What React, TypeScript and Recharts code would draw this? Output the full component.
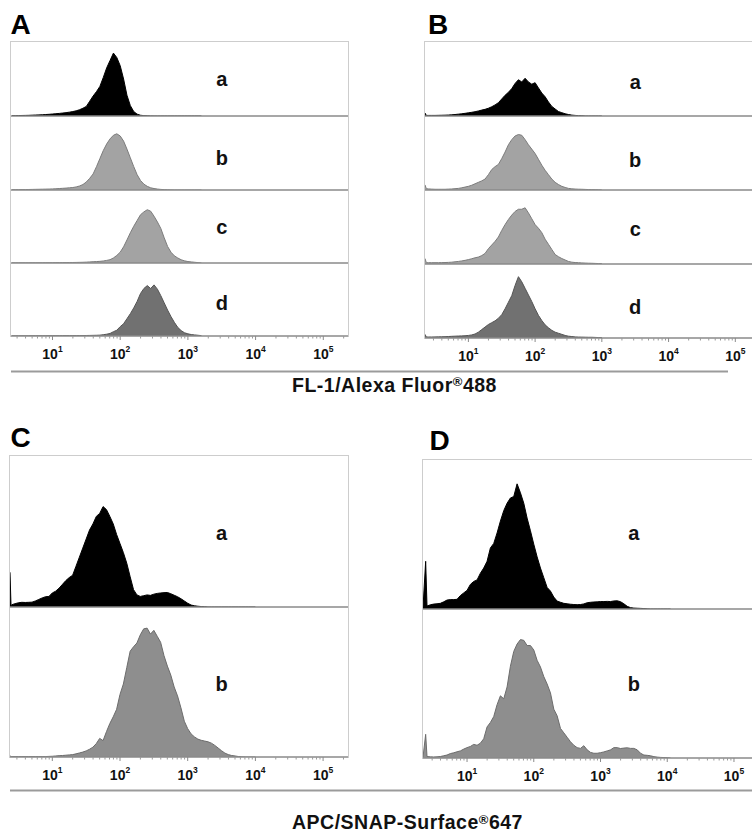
import { Area, AreaChart, ReferenceDot, ReferenceLine, XAxis, YAxis } from "recharts";

const font = "'Liberation Sans', Arial, Helvetica, sans-serif";

// log10 of fluorescence intensity, one grid per panel
const gridA = [
  0.4, 0.45, 0.5, 0.55, 0.6, 0.65, 0.7, 0.75, 0.8, 0.85, 0.9, 0.95,
  1.0, 1.05, 1.1, 1.15, 1.2, 1.25, 1.3, 1.35, 1.4, 1.45,
  1.5, 1.55, 1.6, 1.65, 1.7, 1.75, 1.8, 1.85, 1.9, 1.95,
  2.0, 2.05, 2.1, 2.15, 2.2, 2.25, 2.3, 2.35, 2.4, 2.45,
  2.5, 2.55, 2.6, 2.65, 2.7, 2.75, 2.8, 2.85, 2.9, 2.95,
  3.0, 3.05, 3.1, 3.15, 3.2,
];
const gridB = [
  0.35, 0.37,
  0.4, 0.45, 0.5, 0.55, 0.6, 0.65, 0.7, 0.75, 0.8, 0.85, 0.9, 0.95,
  1.0, 1.05, 1.1, 1.15, 1.2, 1.25, 1.3, 1.35, 1.4, 1.45,
  1.5, 1.55, 1.6, 1.65, 1.7, 1.75, 1.8, 1.85, 1.9, 1.95,
  2.0, 2.05, 2.1, 2.15, 2.2, 2.25, 2.3, 2.35, 2.4, 2.45,
  2.5, 2.55, 2.6, 2.65, 2.7, 2.75, 2.8, 2.85, 2.9, 2.95,
  3.0,
];
const gridC = [
  0.375, 0.39,
  0.4, 0.45, 0.5, 0.55, 0.6, 0.65, 0.7, 0.75, 0.8, 0.85, 0.9, 0.95,
  1.0, 1.05, 1.1, 1.15, 1.2, 1.25, 1.3, 1.35, 1.4, 1.45,
  1.5, 1.55, 1.6, 1.65, 1.7, 1.75, 1.8, 1.85, 1.9, 1.95,
  2.0, 2.05, 2.1, 2.15, 2.2, 2.25, 2.3, 2.35, 2.4, 2.45,
  2.5, 2.55, 2.6, 2.65, 2.7, 2.75, 2.8, 2.85, 2.9, 2.95,
  3.0, 3.05, 3.1, 3.15, 3.2, 3.25, 3.3, 3.35, 3.4, 3.45,
  3.5, 3.55, 3.6, 3.65, 3.7, 3.75, 3.8, 3.85, 3.9, 3.95,
  4.0,
];
const gridD = [
  0.34, 0.38,
  0.4, 0.45, 0.5, 0.55, 0.6, 0.65, 0.7, 0.75, 0.8, 0.85, 0.9, 0.95,
  1.0, 1.05, 1.1, 1.15, 1.2, 1.25, 1.3, 1.35, 1.4, 1.45,
  1.5, 1.55, 1.6, 1.65, 1.7, 1.75, 1.8, 1.85, 1.9, 1.95,
  2.0, 2.05, 2.1, 2.15, 2.2, 2.25, 2.3, 2.35, 2.4, 2.45,
  2.5, 2.55, 2.6, 2.65, 2.7, 2.75, 2.8, 2.85, 2.9, 2.95,
  3.0, 3.05, 3.1, 3.15, 3.2, 3.25, 3.3, 3.35, 3.4, 3.45,
  3.5, 3.55, 3.6, 3.65, 3.7, 3.75, 3.8, 3.85, 3.9, 3.95,
  4.0, 4.05,
];

// counts, % of row height
const countsAa = [
  0.5, 0.5, 0.6, 0.7, 0.8, 0.9, 1.1, 1.3, 1.5, 1.7, 2, 2.3,
  2.7, 3.1, 3.5, 4, 4.5, 5.2, 6, 7, 8.5, 10.5,
  13, 20, 27, 33, 40, 52, 65, 75, 85, 79,
  68, 50, 28, 14, 6, 2.5, 1, 0.5, 0.3, 0.1,
  0, 0, 0, 0, 0, 0, 0, 0, 0, 0,
  0, 0, 0, 0, 0,
];
const countsAb = [
  0.5, 0.5, 0.5, 0.6, 0.6, 0.7, 0.8, 0.9, 1, 1.1, 1.2, 1.3,
  1.5, 1.7, 2, 2.3, 2.6, 3, 3.4, 4.2, 5.5, 7.5,
  11, 16, 22, 32, 43, 54, 63, 70, 75, 77,
  74, 67, 56, 44, 32, 21, 13, 8, 5, 3,
  2, 1.3, 0.8, 0.5, 0.3, 0.1, 0, 0, 0, 0,
  0, 0, 0, 0, 0,
];
const countsAc = [
  0.2, 0.2, 0.2, 0.2, 0.2, 0.2, 0.3, 0.3, 0.3, 0.3, 0.4, 0.4,
  0.4, 0.5, 0.5, 0.6, 0.6, 0.7, 0.7, 0.8, 0.9, 1,
  1.2, 1.5, 1.8, 2, 2.3, 2.8, 3.6, 4.6, 7, 10.5,
  15, 22.5, 32, 42, 51, 59, 67, 71, 74, 72,
  65, 57, 48, 35, 23, 15, 10, 7, 4.5, 3,
  2, 1.5, 1, 0.5, 0,
];
const countsAd = [
  0.2, 0.2, 0.2, 0.2, 0.2, 0.2, 0.3, 0.3, 0.3, 0.3, 0.3, 0.4,
  0.4, 0.4, 0.4, 0.5, 0.5, 0.5, 0.5, 0.5, 0.6, 0.6,
  0.7, 0.8, 0.9, 1, 1.2, 1.8, 2.5, 3.5, 6, 8,
  13, 17, 24, 31, 39, 48, 59, 66, 70, 66,
  71, 65, 56, 46, 36, 27, 19, 12, 7.5, 4.5,
  3, 2, 1.5, 1, 0.5,
];

const countsBa = [
  4, 0.8,
  0.8, 0.8, 0.8, 0.9, 1, 1.1, 1.3, 1.6, 2, 2.5, 3, 3.6,
  4.3, 5, 5.8, 6.8, 8, 9, 10.5, 12.5, 15, 18,
  23, 28, 32, 37, 44, 49, 46, 51, 46, 43,
  45, 38, 31, 26, 19, 13, 9.5, 6, 4.5, 3,
  2, 1.2, 0.8, 0.5, 0.3, 0, 0, 0, 0, 0,
  0,
];
const countsBb = [
  7, 1.8,
  1.5, 1.2, 1, 1, 1, 1, 1.2, 1.4, 1.8, 2.2, 3, 4,
  5, 6.5, 8.5, 10.5, 12.5, 15, 21, 28, 32, 35,
  43, 52, 62, 69, 74, 76, 75, 69, 62, 56,
  50, 42, 34, 27, 21, 15, 10.5, 7.5, 5, 3.5,
  2.2, 1.6, 1.3, 1.1, 1, 0.8, 0.6, 0.5, 0.4, 0.2,
  0,
];
const countsBc = [
  7.5, 1.8,
  1.8, 1.8, 1.8, 1.8, 1.9, 2, 2.2, 2.5, 3, 3.5, 4.2, 5,
  6, 7.2, 8.5, 9.5, 11.5, 14.5, 21, 26, 31, 37,
  46, 54, 61, 67, 72, 75, 75, 77, 70, 62,
  54, 49, 43, 34, 27, 20, 13, 10, 7.5, 5.5,
  3.5, 2.5, 2, 1.8, 1.5, 1.3, 1.1, 1, 0.8, 0.6,
  0.5,
];
const countsBd = [
  5, 1.4,
  1.4, 1.4, 1.5, 1.6, 1.7, 1.8, 2, 2.3, 2.5, 2.7, 2.9, 3.1,
  3.5, 4.2, 5.5, 8, 11.5, 15, 18.5, 21, 23.5, 27,
  32, 40, 49, 58, 72, 84, 77, 68, 59, 50,
  40, 31, 24, 18, 14, 10.5, 8, 6.5, 5, 3.5,
  2.5, 2, 1.5, 1.3, 1.2, 1.1, 1, 1, 0.8, 0.6,
  0.5,
];

const countsCa = [
  23, 1,
  1.5, 2.2, 2.8, 3.1, 3, 3.1, 3.2, 4, 5, 6, 6.8, 7,
  9.3, 10.5, 12.5, 15, 17.5, 19.5, 21, 27, 33, 39,
  45, 51, 55, 60, 62, 66.5, 64.5, 60, 55, 48,
  42, 36, 29, 20, 11.5, 8, 7, 7.5, 8, 7.7,
  8.5, 9, 9.3, 9.5, 9.6, 8.8, 7.8, 6.8, 5.5, 4,
  2.5, 1.3, 0.8, 0.5, 0.3, 0.2, 0, 0, 0, 0,
  0, 0, 0, 0, 0, 0, 0, 0, 0, 0,
  0,
];
const countsCb = [
  1, 0.3,
  0.3, 0.3, 0.3, 0.3, 0.3, 0.3, 0.3, 0.3, 0.3, 0.3, 0.3, 0.4,
  0.5, 0.7, 0.9, 1, 1.2, 1.4, 1.6, 2.1, 2.7, 3.3,
  4.1, 5.2, 6.6, 9, 12.5, 11, 17, 22.5, 27, 32,
  42, 49, 60, 71, 74, 76.5, 82, 86, 86.5, 82.5,
  85, 81, 77, 68, 61, 55, 47, 41, 33, 24,
  19, 15.5, 13.5, 12, 11.2, 10.7, 10.2, 9.3, 7.8, 6,
  4.2, 2.6, 1.6, 1, 0.7, 0.3, 0.1, 0, 0, 0,
  0,
];

const countsDa = [
  1, 32,
  2, 2.8, 3.3, 3.5, 3.8, 4.8, 6, 6.3, 6.3, 6.5, 9, 10.8,
  12.5, 16.5, 18.5, 19.5, 24, 27.5, 32, 41, 44, 51,
  59, 66, 71, 74.5, 75.5, 84, 78, 71, 61, 52.5,
  43.5, 35, 27.5, 21, 14.5, 12, 8, 5.3, 4.5, 3.8,
  3.5, 3.2, 3, 2.9, 3, 3.4, 4.2, 4.5, 4.7, 4.8,
  5, 5, 5.1, 5, 5.4, 5.5, 4.9, 3.5, 1.8, 0.9,
  0.6, 0.5, 0.4, 0.3, 0.1, 0, 0, 0, 0, 0,
  0, 0,
];
const countsDb = [
  0.5, 16,
  1, 0.8, 0.7, 0.8, 1, 1.5, 2, 3, 3.5, 4.2, 4.8, 6,
  7, 7.8, 9.2, 8.6, 10, 13, 21, 24, 28, 36,
  42, 40, 48, 62, 72, 77, 80, 79.5, 76, 76,
  73, 66, 61.5, 55, 50, 44, 33, 28.5, 20, 17,
  14, 11, 8.6, 7, 6.5, 8.3, 5.5, 3.8, 3.2, 3.2,
  3.6, 4.1, 4.8, 5.5, 7, 7, 6.4, 6.7, 6.9, 6.5,
  6.5, 5.5, 3.2, 2, 1.8, 1.5, 0.9, 0.6, 0.4, 0.3,
  0.2, 0,
];

const decades = [0, 1, 2, 3, 4, 5];
const multipliers = [1, 2, 3, 4, 5, 6, 7, 8, 9];

type Histo = { name: string; values: number[]; fill: string; stroke: string; labelAt: number };

function axisTicks(domain: [number, number]) {
  const out: number[] = [];
  for (const d of decades) {
    for (const m of multipliers) {
      const v = d + Math.log10(m);
      if (v >= domain[0] && v <= domain[1]) out.push(v);
    }
  }
  return out;
}

function LogTick(props: any) {
  const { x, y, payload } = props;
  const v = payload.value as number;
  const major = Math.abs(v - Math.round(v)) < 1e-6;
  if (!major) return <line x1={x} x2={x} y1={y} y2={y + 2.5} stroke="#9a9a9a" strokeWidth={1} />;
  return (
    <g>
      <line x1={x} x2={x} y1={y} y2={y + 4} stroke="#8a8a8a" strokeWidth={1} />
      <text x={x} y={y + 22.5} textAnchor="middle" fontFamily={font} fontWeight="bold" fontSize={14} fill="#111">
        10
        <tspan dy={-7} fontSize={8.5}>
          {Math.round(v)}
        </tspan>
      </text>
    </g>
  );
}

function Panel({
  left,
  top,
  width,
  heights,
  domain,
  grid,
  rows,
}: {
  left: number;
  top: number;
  width: number;
  heights: number[];
  domain: [number, number];
  grid: number[];
  rows: Histo[];
}) {
  const total = heights.reduce((s, h) => s + h, 0);
  const ticks = axisTicks(domain);
  let rowTop = top;
  return (
    <>
      <div
        style={{
          position: "absolute",
          left: left - 1,
          top: top - 1,
          width,
          height: total,
          borderTop: "1px solid #cdcdcd",
          borderLeft: "1px solid #cdcdcd",
          borderRight: "1px solid #cdcdcd",
        }}
      />
      {rows.map((row, i) => {
        const last = i === rows.length - 1;
        const h = heights[i];
        const y0 = rowTop;
        rowTop += h;
        const data = grid.map((g, j) => ({ x: g, y: row.values[j] }));
        return (
          <div key={row.name} style={{ position: "absolute", left, top: y0 }}>
            <AreaChart
              width={width}
              height={last ? h - 1 + 34 : h}
              data={data}
              margin={{ top: 0, right: 0, left: 0, bottom: last ? 0 : 1 }}
            >
              <XAxis
                type="number"
                dataKey="x"
                domain={domain}
                allowDataOverflow
                hide={!last}
                ticks={ticks}
                interval={0}
                tick={<LogTick />}
                tickLine={false}
                axisLine={false}
                tickSize={0}
                tickMargin={0}
                height={34}
              />
              <YAxis type="number" domain={[0, 100]} hide allowDataOverflow />
              <Area
                type="linear"
                dataKey="y"
                fill={row.fill}
                fillOpacity={1}
                stroke={row.stroke}
                strokeWidth={1}
                isAnimationActive={false}
              />
              <ReferenceLine y={0} stroke="#8a8a8a" strokeWidth={1.6} />
              <ReferenceDot
                x={3.5}
                y={row.labelAt}
                r={0}
                shape={(p: any) => (
                  <text x={p.cx} y={p.cy} textAnchor="middle" fontFamily={font} fontWeight="bold" fontSize={20} fill="#111">
                    {row.name}
                  </text>
                )}
              />
            </AreaChart>
          </div>
        );
      })}
    </>
  );
}

const black = { fill: "#000000", stroke: "#000000" };
const light = { fill: "#a3a3a3", stroke: "#7c7c7c" };
const dark = { fill: "#717171", stroke: "#555555" };
const mid = { fill: "#8e8e8e", stroke: "#6c6c6c" };

export default function App() {
  return (
    <div
      style={{
        position: "fixed",
        left: 0,
        top: 0,
        width: 752,
        height: 832,
        overflow: "hidden",
        background: "#ffffff",
        fontFamily: font,
      }}
    >
      <svg width={752} height={832} style={{ position: "absolute", left: 0, top: 0 }}>
        <g fontFamily={font} fontWeight="bold" fill="#000">
          <text x={10.5} y={33.5} fontSize={28}>A</text>
          <text x={428} y={33.5} fontSize={28}>B</text>
          <text x={10.5} y={447} fontSize={28}>C</text>
          <text x={429.5} y={450} fontSize={28}>D</text>
        </g>
        <line x1={11} x2={728} y1={371.5} y2={371.5} stroke="#9b9b9b" strokeWidth={2} />
        <line x1={10} x2={752} y1={790.5} y2={790.5} stroke="#9b9b9b" strokeWidth={2} />
        <text x={292} y={391.5} fontFamily={font} fontWeight="bold" fontSize={19.5} letterSpacing={0.5} fill="#111">
          FL-1/Alexa Fluor
          <tspan dy={-5.5} fontSize={13}>®</tspan>
          <tspan dy={5.5}>488</tspan>
        </text>
        <text x={292} y={829} fontFamily={font} fontWeight="bold" fontSize={19.5} letterSpacing={0.5} fill="#111">
          APC/SNAP-Surface
          <tspan dy={-5.5} fontSize={13}>®</tspan>
          <tspan dy={5.5}>647</tspan>
        </text>
      </svg>

      <Panel
        left={11}
        top={42}
        width={337}
        heights={[75, 74, 73, 73]}
        domain={[0.387, 5.365]}
        grid={gridA}
        rows={[
          { name: "a", values: countsAa, ...black, labelAt: 40 },
          { name: "b", values: countsAb, ...light, labelAt: 34.5 },
          { name: "c", values: countsAc, ...light, labelAt: 40 },
          { name: "d", values: countsAd, ...dark, labelAt: 35.5 },
        ]}
      />
      <Panel
        left={425}
        top={42}
        width={337}
        heights={[75, 74, 74, 74]}
        domain={[0.35, 5.4]}
        grid={gridB}
        rows={[
          { name: "a", values: countsBa, ...black, labelAt: 37 },
          { name: "b", values: countsBb, ...light, labelAt: 32 },
          { name: "c", values: countsBc, ...light, labelAt: 38 },
          { name: "d", values: countsBd, ...dark, labelAt: 33 },
        ]}
      />
      <Panel
        left={10}
        top={456}
        width={338}
        heights={[152, 150]}
        domain={[0.375, 5.368]}
        grid={gridC}
        rows={[
          { name: "a", values: countsCa, ...black, labelAt: 44.5 },
          { name: "b", values: countsCb, ...mid, labelAt: 44.5 },
        ]}
      />
      <Panel
        left={423}
        top={460}
        width={337}
        heights={[150, 149]}
        domain={[0.34, 5.39]}
        grid={gridD}
        rows={[
          { name: "a", values: countsDa, ...black, labelAt: 46 },
          { name: "b", values: countsDb, ...mid, labelAt: 45 },
        ]}
      />
    </div>
  );
}
